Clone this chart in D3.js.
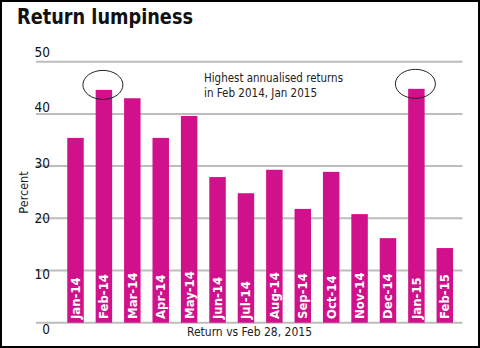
<!DOCTYPE html>
<html><head><meta charset="utf-8">
<script src="https://cdn.jsdelivr.net/npm/d3@7"></script>
<style>
html,body{margin:0;padding:0;background:#fff;}
svg{display:block;}
.cond{font-family:"Liberation Sans Narrow","DejaVu Sans Condensed","Roboto",sans-serif;}
</style></head>
<body>
<svg id="chart" width="480" height="348"></svg>
<script>
const categories = ["Jan-14","Feb-14","Mar-14","Apr-14","May-14","Jun-14","Jul-14","Aug-14","Sep-14","Oct-14","Nov-14","Dec-14","Jan-15","Feb-15"];
const values = [35.4,44.6,43.0,35.4,39.6,27.9,24.8,29.3,21.8,28.9,20.8,16.2,44.8,14.3];
const tickValues = [0,10,20,30,40,50];
const highlighted = ["Feb-14","Jan-15"];
const title = "Return lumpiness";
const annotation = ["Highest annualised returns","in Feb 2014, Jan 2015"];
const yTitle = "Percent";
const xTitle = "Return vs Feb 28, 2015";

const svg = d3.select("#chart");
const W = 480, H = 348;

svg.append("rect").attr("x",1).attr("y",1).attr("width",W-2).attr("height",H-2)
  .attr("fill","#fff").attr("stroke","#000").attr("stroke-width",2);

svg.append("text").attr("x",17).attr("y",24).text(title)
  .attr("font-family","'Liberation Sans Narrow','DejaVu Sans Condensed',sans-serif")
  .attr("font-weight","bold").attr("font-size",20.5).attr("fill","#111")
  .attr("textLength",176).attr("lengthAdjust","spacingAndGlyphs");

const y = d3.scaleLinear().domain([0,50]).range([322.7,61.7]);
const yLab = d3.scaleLinear().domain([0,50]).range([334,57]);
const x = d3.scaleBand().domain(categories).range([61.3,459]).paddingInner(0.42).paddingOuter(0.21);

// gridlines
svg.append("g").selectAll("line").data(tickValues).join("line")
  .attr("x1",36).attr("x2",462.5)
  .attr("y1",d=>y(d)).attr("y2",d=>y(d))
  .attr("stroke","#bdbdbd").attr("stroke-width",2);

// tick labels
svg.append("g").selectAll("text").data(tickValues).join("text")
  .attr("class","cond")
  .attr("x",50).attr("y",d=>yLab(d)).attr("text-anchor","end")
  .attr("font-size",13.5).attr("fill","#111").text(d=>d);

// bars
svg.append("g").selectAll("rect").data(categories).join("rect")
  .attr("x",d=>x(d)).attr("width",x.bandwidth())
  .attr("y",(d,i)=>y(values[i])).attr("height",(d,i)=>y(0)-y(values[i]))
  .attr("fill","#d0118b");

// month labels
svg.append("g").selectAll("text").data(categories).join("text")
  .attr("class","cond")
  .attr("transform",d=>`translate(${x(d)+x.bandwidth()/2+4.5},319) rotate(-90)`)
  .attr("font-size",13).attr("font-weight","bold").attr("fill","#fff").text(d=>d);

// ellipses
svg.append("g").selectAll("ellipse").data(highlighted).join("ellipse")
  .attr("cx",d=>x(d)+x.bandwidth()/2-1)
  .attr("cy",d=>y(values[categories.indexOf(d)])-5)
  .attr("rx",20).attr("ry",14.5)
  .attr("fill","none").attr("stroke","#222").attr("stroke-width",1);

// annotation
svg.append("g").selectAll("text").data(annotation).join("text")
  .attr("class","cond")
  .attr("x",204).attr("y",(d,i)=>81.5+i*15.5)
  .attr("font-size",12.5).attr("fill","#222").text(d=>d)
  .attr("textLength",(d,i)=>i===0?139:113).attr("lengthAdjust","spacingAndGlyphs");

svg.append("text").attr("class","cond")
  .attr("transform","translate(27.5,192.5) rotate(-90)")
  .attr("text-anchor","middle").attr("font-size",12.5).attr("fill","#222").text(yTitle);

svg.append("text").attr("class","cond")
  .attr("x",249.5).attr("y",336).attr("text-anchor","middle")
  .attr("font-size",12.5).attr("fill","#222").text(xTitle)
  .attr("textLength",125).attr("lengthAdjust","spacingAndGlyphs");
</script>
</body></html>
